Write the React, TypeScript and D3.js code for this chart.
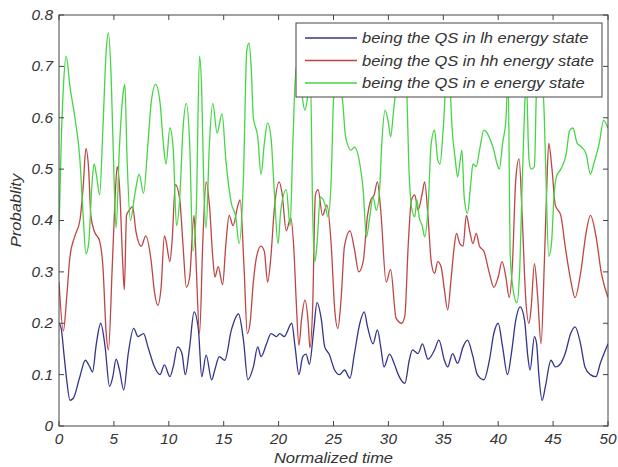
import * as d3 from 'd3'

type Pt = [number, number]

// probability of the QS being in the lh state (blue)
const lhData: Pt[] = [
  [0, 0.2], [0.2, 0.19], [0.45, 0.14], [0.7, 0.09], [1.0, 0.05], [1.3, 0.054], [1.9, 0.096],
  [2.4, 0.128], [2.8, 0.115], [3.05, 0.105], [3.4, 0.16], [3.8, 0.2], [4.2, 0.154], [4.6, 0.077],
  [4.9, 0.096], [5.2, 0.13], [5.5, 0.11], [5.9, 0.07], [6.3, 0.14], [6.8, 0.19], [7.2, 0.174],
  [7.7, 0.18], [8.1, 0.154], [8.7, 0.115], [9.2, 0.1], [9.6, 0.119], [10.1, 0.096], [10.4, 0.115],
  [10.8, 0.154], [11.2, 0.141], [11.5, 0.1], [11.9, 0.154], [12.3, 0.222], [12.7, 0.187],
  [13.0, 0.096], [13.4, 0.138], [13.9, 0.09], [14.2, 0.11], [14.6, 0.135], [15.1, 0.128],
  [15.7, 0.187], [16.35, 0.218], [16.8, 0.167], [17.2, 0.09], [17.7, 0.115], [18.1, 0.154],
  [18.4, 0.135], [18.9, 0.16], [19.3, 0.18], [19.8, 0.174], [20.1, 0.18], [20.5, 0.174],
  [21.2, 0.2], [21.5, 0.154], [21.85, 0.1], [22.2, 0.135], [22.5, 0.14], [22.8, 0.12],
  [23.2, 0.187], [23.5, 0.24], [23.9, 0.206], [24.2, 0.154], [24.6, 0.14], [25.1, 0.109],
  [25.55, 0.1], [26.0, 0.109], [26.5, 0.093], [26.9, 0.14], [27.4, 0.2], [27.8, 0.222],
  [28.1, 0.193], [28.6, 0.16], [29.0, 0.187], [29.3, 0.154], [29.6, 0.115], [30.1, 0.14],
  [30.55, 0.12], [30.9, 0.1], [31.5, 0.083], [31.9, 0.128], [32.2, 0.148], [32.7, 0.141],
  [33.1, 0.16], [33.6, 0.13], [34.2, 0.148], [34.6, 0.167], [35.1, 0.128], [35.4, 0.115],
  [35.85, 0.141], [36.3, 0.122], [36.8, 0.154], [37.2, 0.167], [37.7, 0.135], [38.1, 0.1],
  [38.7, 0.09], [39.2, 0.128], [39.6, 0.18], [40.0, 0.2], [40.4, 0.154], [40.85, 0.1],
  [41.2, 0.141], [41.6, 0.206], [42.0, 0.232], [42.4, 0.206], [42.7, 0.135], [42.9, 0.109],
  [43.3, 0.174], [43.5, 0.16], [43.7, 0.1], [44.0, 0.05], [44.3, 0.077], [44.8, 0.128],
  [45.2, 0.115], [45.7, 0.122], [46.1, 0.141], [46.6, 0.18], [47.0, 0.193], [47.5, 0.16],
  [47.9, 0.115], [48.4, 0.1], [48.9, 0.096], [49.3, 0.122], [50, 0.16],
]

// hh state (red)
const hhData: Pt[] = [
  [0, 0.28], [0.4, 0.185], [0.7, 0.25], [1.0, 0.33], [1.45, 0.37], [1.9, 0.4], [2.2, 0.465],
  [2.45, 0.54], [2.7, 0.5], [2.9, 0.41], [3.2, 0.38], [3.7, 0.36], [4.0, 0.31], [4.3, 0.18],
  [4.5, 0.148], [4.85, 0.31], [5.1, 0.44], [5.3, 0.505], [5.5, 0.47], [5.8, 0.32], [5.95, 0.265],
  [6.15, 0.41], [6.4, 0.42], [6.7, 0.427], [7.0, 0.38], [7.5, 0.35], [7.9, 0.37], [8.4, 0.32],
  [8.7, 0.26], [9.0, 0.235], [9.3, 0.27], [9.6, 0.37], [9.75, 0.36], [10.1, 0.32], [10.3, 0.36],
  [10.6, 0.47], [11.0, 0.44], [11.3, 0.35], [11.6, 0.27], [11.9, 0.29], [12.3, 0.41], [12.5, 0.31],
  [12.8, 0.18], [13.1, 0.36], [13.4, 0.475], [13.7, 0.43], [14.0, 0.33], [14.2, 0.29], [14.5, 0.31],
  [14.9, 0.275], [15.2, 0.355], [15.5, 0.41], [15.85, 0.39], [16.3, 0.43], [16.5, 0.44],
  [16.85, 0.31], [17.15, 0.18], [17.4, 0.2], [17.7, 0.28], [18.0, 0.33], [18.4, 0.35], [18.7, 0.34],
  [19.0, 0.28], [19.3, 0.33], [19.6, 0.42], [20.05, 0.475], [20.3, 0.455], [20.7, 0.38],
  [21.1, 0.405], [21.4, 0.34], [21.6, 0.245], [21.85, 0.157], [22.1, 0.21], [22.4, 0.245],
  [22.7, 0.2], [22.85, 0.152], [23.1, 0.23], [23.35, 0.45], [23.6, 0.46], [24.0, 0.41],
  [24.4, 0.43], [24.8, 0.35], [25.1, 0.23], [25.4, 0.19], [25.7, 0.25], [26.0, 0.35], [26.5, 0.38],
  [26.9, 0.345], [27.3, 0.3], [27.7, 0.32], [28.1, 0.41], [28.4, 0.44], [28.7, 0.45], [29.0, 0.475],
  [29.3, 0.42], [29.8, 0.28], [30.2, 0.305], [30.7, 0.21], [31.2, 0.2], [31.5, 0.215], [31.8, 0.35],
  [32.1, 0.44], [32.4, 0.45], [32.7, 0.42], [33.1, 0.455], [33.3, 0.475], [33.6, 0.41],
  [33.9, 0.32], [34.2, 0.297], [34.5, 0.32], [34.8, 0.31], [35.1, 0.265], [35.4, 0.226],
  [35.7, 0.284], [36.0, 0.35], [36.2, 0.375], [36.5, 0.355], [36.8, 0.35], [37.1, 0.41],
  [37.4, 0.38], [37.7, 0.355], [38.0, 0.375], [38.3, 0.35], [38.7, 0.34], [39.2, 0.297],
  [39.6, 0.27], [40.0, 0.29], [40.35, 0.32], [40.7, 0.29], [41.0, 0.25], [41.3, 0.316],
  [41.6, 0.48], [41.9, 0.52], [42.2, 0.4], [42.5, 0.25], [42.8, 0.2], [43.0, 0.23], [43.3, 0.316],
  [43.6, 0.25], [43.9, 0.16], [44.2, 0.316], [44.4, 0.45], [44.6, 0.55], [44.9, 0.5], [45.2, 0.43],
  [45.7, 0.41], [46.1, 0.35], [46.6, 0.284], [47.0, 0.25], [47.5, 0.297], [48.0, 0.375],
  [48.4, 0.41], [48.9, 0.37], [49.4, 0.297], [50, 0.25],
]

// e state (green)
const eData: Pt[] = [
  [0, 0.38], [0.2, 0.55], [0.4, 0.66], [0.65, 0.72], [1.0, 0.66], [1.45, 0.6], [1.9, 0.52],
  [2.2, 0.41], [2.45, 0.335], [2.7, 0.355], [3.0, 0.47], [3.2, 0.51], [3.4, 0.49], [3.7, 0.45],
  [4.0, 0.58], [4.3, 0.73], [4.5, 0.765], [4.75, 0.68], [5.0, 0.49], [5.2, 0.385], [5.5, 0.54],
  [5.85, 0.65], [6.0, 0.665], [6.2, 0.52], [6.5, 0.4], [6.9, 0.45], [7.3, 0.49], [7.7, 0.453],
  [8.1, 0.55], [8.4, 0.63], [8.8, 0.665], [9.2, 0.63], [9.5, 0.55], [9.75, 0.51], [10.1, 0.58],
  [10.4, 0.54], [10.7, 0.39], [11.0, 0.445], [11.3, 0.58], [11.6, 0.628], [11.9, 0.55],
  [12.2, 0.34], [12.5, 0.42], [12.8, 0.72], [13.0, 0.65], [13.2, 0.455], [13.4, 0.385],
  [13.7, 0.55], [14.0, 0.628], [14.4, 0.57], [14.85, 0.608], [15.2, 0.517], [15.7, 0.433],
  [16.1, 0.407], [16.4, 0.355], [16.8, 0.485], [17.1, 0.73], [17.3, 0.745], [17.5, 0.7],
  [17.7, 0.6], [18.1, 0.563], [18.4, 0.49], [18.7, 0.55], [19.0, 0.59], [19.3, 0.563],
  [19.6, 0.46], [19.95, 0.355], [20.2, 0.42], [20.7, 0.46], [21.05, 0.39], [21.3, 0.55],
  [21.6, 0.7], [22.0, 0.68], [22.2, 0.634], [22.4, 0.615], [22.7, 0.65], [22.9, 0.68],
  [23.1, 0.42], [23.3, 0.32], [23.5, 0.355], [23.8, 0.446], [24.2, 0.433], [24.5, 0.407],
  [24.8, 0.485], [25.0, 0.634], [25.4, 0.7], [25.85, 0.628], [26.1, 0.563], [26.6, 0.537],
  [26.9, 0.543], [27.4, 0.51], [27.7, 0.46], [28.0, 0.368], [28.3, 0.407], [28.6, 0.446],
  [28.9, 0.42], [29.2, 0.46], [29.4, 0.55], [29.7, 0.615], [30.0, 0.59], [30.2, 0.563],
  [30.5, 0.62], [31.0, 0.7], [31.6, 0.68], [31.9, 0.485], [32.1, 0.427], [32.4, 0.407],
  [32.6, 0.44], [32.8, 0.407], [33.1, 0.388], [33.3, 0.368], [33.6, 0.42], [33.9, 0.55],
  [34.2, 0.576], [34.5, 0.517], [34.7, 0.51], [35.0, 0.58], [35.3, 0.68], [35.6, 0.66],
  [35.8, 0.58], [36.1, 0.517], [36.3, 0.485], [36.7, 0.537], [36.9, 0.446], [37.2, 0.414],
  [37.5, 0.472], [37.7, 0.51], [38.0, 0.505], [38.3, 0.537], [38.7, 0.576], [39.0, 0.57],
  [39.3, 0.556], [39.6, 0.537], [39.9, 0.51], [40.1, 0.5], [40.4, 0.55], [40.7, 0.595],
  [40.9, 0.68], [41.1, 0.33], [41.4, 0.26], [41.7, 0.24], [41.95, 0.3], [42.15, 0.446],
  [42.4, 0.615], [42.55, 0.68], [42.8, 0.52], [43.0, 0.5], [43.3, 0.505], [43.5, 0.66],
  [43.9, 0.7], [44.2, 0.6], [44.35, 0.485], [44.6, 0.33], [44.85, 0.355], [45.1, 0.453],
  [45.3, 0.485], [45.7, 0.5], [46.2, 0.53], [46.5, 0.575], [46.8, 0.58], [47.2, 0.55],
  [47.6, 0.543], [48.0, 0.53], [48.4, 0.49], [48.7, 0.51], [49.2, 0.55], [49.6, 0.595], [50, 0.58],
]

const xTicks = [0, 5, 10, 15, 20, 25, 30, 35, 40, 45, 50]
const yTicks = [0, 0.1, 0.2, 0.3, 0.4, 0.5, 0.6, 0.7, 0.8]
const yTickLabels = ['0', '0.1', '0.2', '0.3', '0.4', '0.5', '0.6', '0.7', '0.8']

const seriesNames = [
  'being the QS in lh energy state',
  'being the QS in hh energy state',
  'being the QS in e energy state',
]
const seriesColors = ['#34348a', '#bf4545', '#45d645']

const font = '"Liberation Sans", Arial, sans-serif'

export default function App() {
  const W = 618
  const H = 467
  const plot = { left: 59, right: 608, top: 15, bottom: 426 }

  const x = d3.scaleLinear().domain([0, 50]).range([plot.left, plot.right])
  const y = d3.scaleLinear().domain([0, 0.8]).range([plot.bottom, plot.top])

  const line = d3
    .line<Pt>()
    .x(d => x(d[0]))
    .y(d => y(d[1]))
    .curve(d3.curveMonotoneX)

  const series = [lhData, hhData, eData]
  const legend = { x: 296, y: 23, w: 306, h: 74 }
  const tickLen = 5
  // the source figure's text is a little wider than plain Liberation Sans
  const stretch = 'scale(1.1,1)'

  return (
    <svg
      width={W}
      height={H}
      style={{ position: 'absolute', left: 0, top: 0, background: '#fff' }}
      fontFamily={font}
    >
      <rect x={0} y={0} width={W} height={H} fill="#fff" />
      <defs>
        <clipPath id="plotclip">
          <rect
            x={plot.left}
            y={plot.top}
            width={plot.right - plot.left}
            height={plot.bottom - plot.top}
          />
        </clipPath>
      </defs>

      {/* data lines */}
      <g clipPath="url(#plotclip)">
        {series.map((s, i) => (
          <path
            key={i}
            d={line(s) ?? ''}
            fill="none"
            stroke={seriesColors[i]}
            strokeWidth={1.3}
            strokeLinejoin="round"
          />
        ))}
      </g>

      {/* frame */}
      <rect
        x={plot.left}
        y={plot.top}
        width={plot.right - plot.left}
        height={plot.bottom - plot.top}
        fill="none"
        stroke="#444"
        strokeWidth={1}
      />

      {/* x ticks, bottom + top */}
      {xTicks.map(t => (
        <g key={'x' + t}>
          <line x1={x(t)} x2={x(t)} y1={plot.bottom} y2={plot.bottom - tickLen} stroke="#444" />
          <line x1={x(t)} x2={x(t)} y1={plot.top} y2={plot.top + tickLen} stroke="#444" />
          <text
            transform={`translate(${x(t)},${plot.bottom + 18}) ${stretch}`}
            textAnchor="middle"
            fontSize={14}
            fontStyle="italic"
            fill="#333"
          >
            {t}
          </text>
        </g>
      ))}

      {/* y ticks, left + right */}
      {yTicks.map((t, i) => (
        <g key={'y' + t}>
          <line x1={plot.left} x2={plot.left + tickLen} y1={y(t)} y2={y(t)} stroke="#444" />
          <line x1={plot.right} x2={plot.right - tickLen} y1={y(t)} y2={y(t)} stroke="#444" />
          <text
            transform={`translate(${plot.left - 6},${y(t)}) ${stretch}`}
            dy="0.35em"
            textAnchor="end"
            fontSize={14}
            fontStyle="italic"
            fill="#333"
          >
            {yTickLabels[i]}
          </text>
        </g>
      ))}

      {/* axis labels */}
      <text
        transform={`translate(${(plot.left + plot.right) / 2},463) ${stretch}`}
        textAnchor="middle"
        fontSize={15}
        fontStyle="italic"
        fill="#333"
      >
        Normalized time
      </text>
      <text
        transform={`translate(21,${(plot.top + plot.bottom) / 2 - 10}) rotate(-90) ${stretch}`}
        textAnchor="middle"
        fontSize={15}
        fontStyle="italic"
        fill="#333"
      >
        Probablity
      </text>

      {/* legend */}
      <rect
        x={legend.x}
        y={legend.y}
        width={legend.w}
        height={legend.h}
        fill="#fff"
        stroke="#444"
        strokeWidth={1}
      />
      {seriesNames.map((name, i) => {
        const ly = legend.y + 15 + i * 22.5
        return (
          <g key={name}>
            <line
              x1={legend.x + 9}
              x2={legend.x + 61}
              y1={ly}
              y2={ly}
              stroke={seriesColors[i]}
              strokeWidth={1.3}
            />
            <text
              transform={`translate(${legend.x + 66},${ly}) ${stretch}`}
              dy="0.35em"
              fontSize={15}
              fontStyle="italic"
              fill="#333"
            >
              {name}
            </text>
          </g>
        )
      })}
    </svg>
  )
}
